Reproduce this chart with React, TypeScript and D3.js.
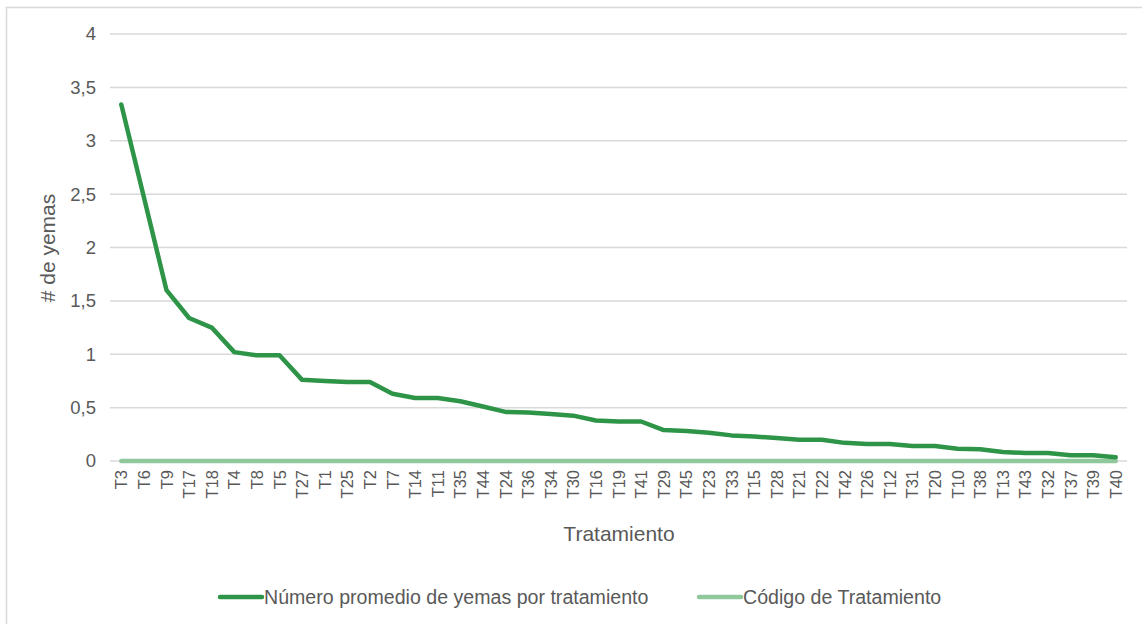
import React from "react";
import * as d3 from "d3";

const categories = ["T3","T6","T9","T17","T18","T4","T8","T5","T27","T1","T25","T2","T7","T14","T11","T35","T44","T24","T36","T34","T30","T16","T19","T41","T29","T45","T23","T33","T15","T28","T21","T22","T42","T26","T12","T31","T20","T10","T38","T13","T43","T32","T37","T39","T40"];
const yemas = [3.34,2.47,1.6,1.34,1.25,1.02,0.99,0.99,0.76,0.75,0.74,0.74,0.63,0.59,0.59,0.56,0.51,0.46,0.455,0.44,0.425,0.38,0.37,0.37,0.29,0.28,0.265,0.24,0.23,0.215,0.2,0.2,0.17,0.16,0.16,0.14,0.14,0.115,0.11,0.085,0.075,0.075,0.053,0.053,0.035];
const codigo = categories.map(() => 0);
const yTicks = [0,0.5,1,1.5,2,2.5,3,3.5,4];
const seriesNames = ["Número promedio de yemas por tratamiento","Código de Tratamiento"];

const W = 1142, H = 624;
const left = 110, right = 1127, top = 34, bottom = 461;
const dark = "#2e9447";
const light = "#8fc89b";
const textColor = "#595959";
const font = "'Liberation Sans', Arial, sans-serif";

export default function App() {
  const x = d3.scaleBand<string>().domain(categories).range([left, right]);
  const y = d3.scaleLinear().domain([0, 4]).range([bottom, top]);
  const cx = (c: string) => (x(c) as number) + x.bandwidth() / 2;
  const line = d3.line<number>().x((_, i) => cx(categories[i])).y((d) => y(d));
  const fmt = (v: number) => String(v).replace(".", ",");
  return (
    <svg width={W} height={H} style={{ position: "absolute", left: 0, top: 0, background: "#fff" }}>
      <rect x={6.5} y={7.5} width={W} height={H} fill="#fff" stroke="#d9d9d9" strokeWidth={1.5} />
      {yTicks.map((t) => (
        <g key={t}>
          <line x1={left} x2={right} y1={y(t)} y2={y(t)} stroke="#d9d9d9" strokeWidth={1.5} />
          <text x={96} y={y(t)} dy="0.35em" textAnchor="end" fontFamily={font} fontSize={18.5} fill={textColor}>{fmt(t)}</text>
        </g>
      ))}
      {categories.map((c) => (
        <text key={c} transform={`translate(${cx(c) + 6},${470}) rotate(-90)`} textAnchor="end" fontFamily={font} fontSize={16.5} fill={textColor}>{c}</text>
      ))}
      <path d={line(codigo) || ""} fill="none" stroke={light} strokeWidth={4.5} strokeLinecap="round" />
      <path d={line(yemas) || ""} fill="none" stroke={dark} strokeWidth={4.5} strokeLinejoin="round" strokeLinecap="round" />
      <text x={619} y={541} textAnchor="middle" fontFamily={font} fontSize={21} fill={textColor}>Tratamiento</text>
      <text transform={`translate(55,248) rotate(-90)`} textAnchor="middle" fontFamily={font} fontSize={21} fill={textColor}># de yemas</text>
      <line x1={220} x2={262} y1={597} y2={597} stroke={dark} strokeWidth={4.5} strokeLinecap="round" />
      <text x={264} y={597} dy="0.35em" fontFamily={font} fontSize={19.6} fill={textColor}>{seriesNames[0]}</text>
      <line x1={699} x2={741} y1={597} y2={597} stroke={light} strokeWidth={4.5} strokeLinecap="round" />
      <text x={743} y={597} dy="0.35em" fontFamily={font} fontSize={19.6} fill={textColor}>{seriesNames[1]}</text>
    </svg>
  );
}
